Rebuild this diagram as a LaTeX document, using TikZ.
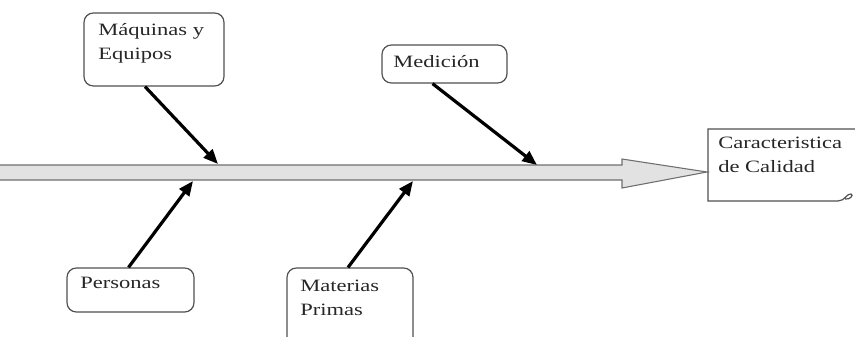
\documentclass[tikz,border=0pt]{standalone}
\usepackage{fontspec}
\setmainfont{Liberation Serif}[FakeStretch=1.3]
\usetikzlibrary{arrows.meta,calc}
\definecolor{edge}{RGB}{80,80,80}
\definecolor{spinefill}{RGB}{226,226,226}
\definecolor{spineedge}{RGB}{110,110,110}

\begin{document}
\begin{tikzpicture}[x=0.75pt,y=0.75pt,yscale=-1,xscale=1,
  causebox/.style={draw=edge,line width=0.9pt,rounded corners=7pt,inner sep=0pt},
  causearrow/.style={line width=2.4pt,-{Triangle[length=11pt,width=9pt]}},
  txt/.style={anchor=north west,inner sep=0pt,align=left,text=black!85,font=\fontsize{13}{18}\selectfont}]
\useasboundingbox (0,0) rectangle (855,336);

%Shape: spine arrow
\draw [draw=spineedge,fill=spinefill,line width=0.8pt] (-4,165) -- (622,165) -- (622,159) -- (707,172) -- (622,188) -- (622,180) -- (-4,180) -- cycle ;
\coordinate (s1) at (218,164);
\coordinate (s2) at (537,165);
\coordinate (s3) at (193,181);
\coordinate (s4) at (413,181);

%Shape: effect box
\draw [draw=edge,line width=0.9pt] (860,129) -- (708,129) -- (708,201) -- (838,201) .. controls (845,201) and (847,193) .. (851,194) .. controls (854,195) and (850,200) .. (845,199) ;

%Shape: cause boxes
\node (maq) [causebox,minimum width=105pt,minimum height=54.75pt] at (154,49.5) {};
\node (med) [causebox,minimum width=93.75pt,minimum height=28.5pt] at (444.5,64) {};
\node (per) [causebox,minimum width=95.25pt,minimum height=33pt] at (130.5,290) {};
\node (mat) [causebox,minimum width=94.5pt,minimum height=60pt] at (350,308) {};

%Straight Lines: causes to spine
\draw [causearrow] ($(maq.south)+(-9,0)$) -- (s1) ;
\draw [causearrow] ($(med.south)+(-12,0)$) -- (s2) ;
\draw [causearrow] ($(per.north)+(-2,0)$) -- (s3) ;
\draw [causearrow] ($(mat.north)+(-2,0)$) -- (s4) ;

% Text Node
\node (maqtxt) [txt] at (98,23) {Máquinas y\\Equipos};
% Text Node
\node (medtxt) [txt] at (393,55) {Medición};
% Text Node
\node (pertxt) [txt] at (80,277) {Personas};
% Text Node
\node (mattxt) [txt] at (300,280) {Materias\\Primas};
% Text Node
\node (cartxt) [txt] at (718,137) {Caracteristica\\de Calidad};

\end{tikzpicture}
\end{document}
